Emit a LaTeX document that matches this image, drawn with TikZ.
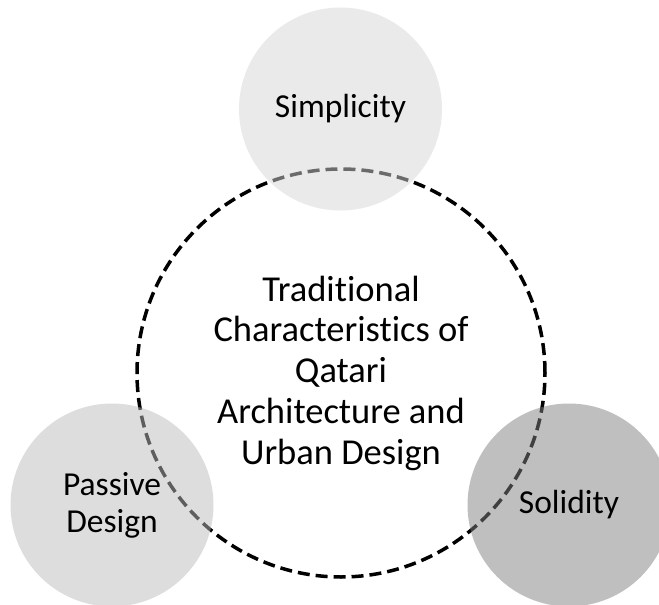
\documentclass[tikz,border=0pt]{standalone}
\usepackage{fontspec}
\setmainfont{Carlito}[Ligatures={NoCommon,NoRequired,NoContextual}]
\begin{document}
\begin{tikzpicture}[x=1pt,y=-1pt,
  bubble/.style={circle,inner sep=0pt,minimum size=203pt,fill opacity=0.5,text opacity=1,align=center,font=\fontsize{33.5}{37}\selectfont},
  hub/.style={circle,inner sep=0pt,minimum size=408pt,draw=black,line width=3.5pt,dash pattern=on 12pt off 6pt,align=center,font=\fontsize{36.5}{40.75}\selectfont}]
\useasboundingbox (0,0) rectangle (659,605);
\fill[white] (0,0) rectangle (659,605);
\node[hub] (core) at (341,373) {Traditional\\Characteristics of\\Qatari\\Architecture and\\Urban Design};
\node[bubble,fill={rgb,1:red,0.84;green,0.84;blue,0.84}] (simp) at (340.5,109) {Simplicity};
\node[bubble,fill={rgb,1:red,0.74;green,0.74;blue,0.74}] (pass) at (112,505) {Passive\\Design};
\node[bubble,fill={rgb,1:red,0.5;green,0.5;blue,0.5}] (soli) at (569,505) {Solidity};
\end{tikzpicture}
\end{document}
